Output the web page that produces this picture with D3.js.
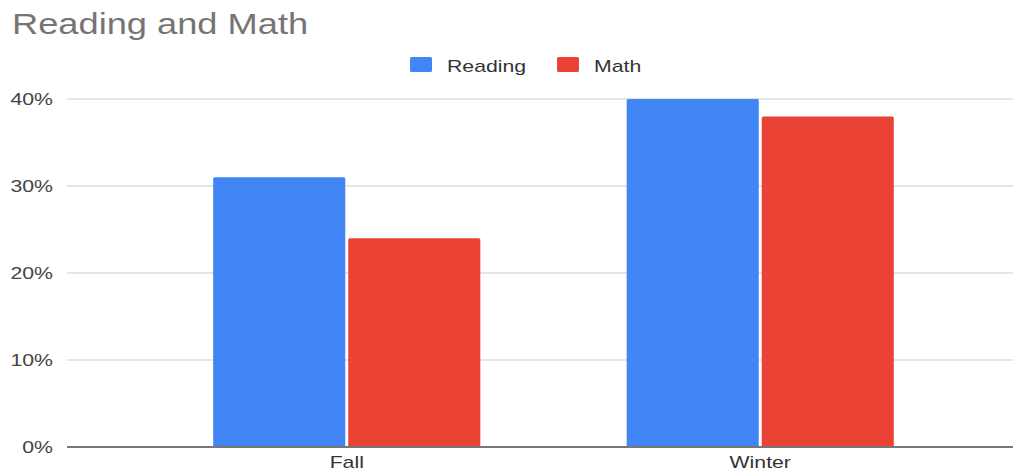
<!DOCTYPE html>
<html>
<head>
<meta charset="utf-8">
<script src="https://cdn.jsdelivr.net/npm/d3@7"></script>
<style>
  body { margin: 0; background: #fff; }
  text { font-family: "Liberation Sans", Arial, sans-serif; }
</style>
</head>
<body>
<div id="chart"></div>
<script>
// chart data
var seasons = ["Fall", "Winter"];
var series = ["Reading", "Math"];
var reading = [0.31, 0.40];
var math = [0.24, 0.38];
var yTicks = [0, 0.1, 0.2, 0.3, 0.4];
var colors = ["#4285f4", "#ea4335"];

var W = 1014, H = 472;
// the source picture is stretched sideways, so text gets scaled in x
var stretch = 1.25;
var plot = { left: 67, right: 1013, top: 99, bottom: 447 };

var svg = d3.select("#chart").append("svg")
    .attr("width", W)
    .attr("height", H);

function label(g, x, y, str, size, fill, anchor) {
    return g.append("text")
        .attr("transform", `translate(${x}, ${y}) scale(${stretch}, 1)`)
        .attr("text-anchor", anchor || "start")
        .attr("font-size", size)
        .attr("fill", fill)
        .text(str);
}

var y = d3.scaleLinear()
    .domain([0, 0.4])
    .range([plot.bottom, plot.top]);

var x0 = d3.scaleBand()
    .domain(seasons)
    .range([140, 967])
    .paddingInner(0.354)
    .paddingOuter(0.177);

var x1 = d3.scaleBand()
    .domain(series)
    .range([0, x0.bandwidth()])
    .paddingInner(0.022);

var color = d3.scaleOrdinal().domain(series).range(colors);

// gridlines + y labels
var grid = svg.append("g");
yTicks.forEach(function(t) {
    if (t > 0) {
        grid.append("line")
            .attr("x1", plot.left).attr("x2", plot.right)
            .attr("y1", y(t)).attr("y2", y(t))
            .attr("stroke", "#dcdcdc")
            .attr("stroke-width", 1.6);
    }
    label(grid, 53, y(t) + 5.5, d3.format(".0%")(t), 17, "#444", "end");
});

// bars
var rows = seasons.map(function(s, i) {
    return { season: s, values: [reading[i], math[i]] };
});

svg.append("g").selectAll("g")
    .data(rows)
    .enter().append("g")
    .attr("transform", d => `translate(${x0(d.season)}, 0)`)
    .selectAll("rect")
    .data(d => d.values.map((v, j) => ({ key: series[j], value: v })))
    .enter().append("rect")
    .attr("x", d => x1(d.key))
    .attr("y", d => y(d.value))
    .attr("width", x1.bandwidth())
    .attr("height", d => y(0) - y(d.value))
    .attr("rx", 1.5)
    .attr("fill", d => color(d.key));

// baseline
svg.append("line")
    .attr("x1", plot.left).attr("x2", plot.right)
    .attr("y1", y(0)).attr("y2", y(0))
    .attr("stroke", "#777")
    .attr("stroke-width", 2);

// x labels
seasons.forEach(function(s) {
    label(svg, x0(s) + x0.bandwidth() / 2, 468, s, 17, "#333", "middle");
});

// title
label(svg, 12, 34, "Reading and Math", 29, "#757575");

// legend
var legend = svg.append("g");
var legendX = [410, 557];
series.forEach(function(s, i) {
    legend.append("rect")
        .attr("x", legendX[i]).attr("y", 57)
        .attr("width", 22).attr("height", 15)
        .attr("rx", 1.5)
        .attr("fill", color(s));
    label(legend, legendX[i] + 37, 72, s, 17, "#333");
});
</script>
</body>
</html>
